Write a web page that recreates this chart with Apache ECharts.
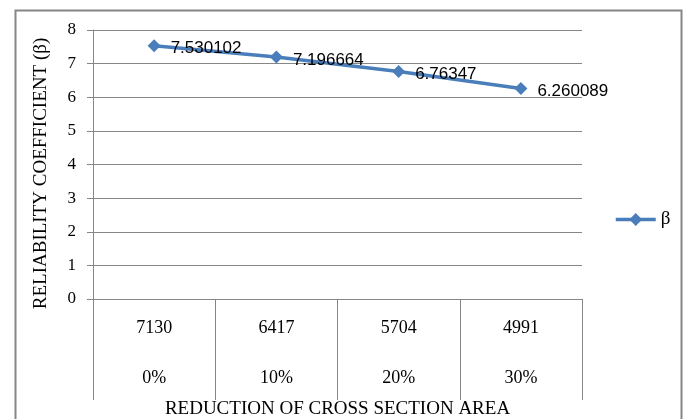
<!DOCTYPE html>
<html>
<head>
<meta charset="utf-8">
<script src="https://cdn.jsdelivr.net/npm/echarts@6/dist/echarts.min.js"></script>
<style>
html,body{margin:0;padding:0;background:#fff;}
#chart{width:686px;height:419px;}
</style>
</head>
<body>
<div id="chart"></div>
<script>
const areas = ['7130', '6417', '5704', '4991'];
const reductions = ['0%', '10%', '20%', '30%'];
const betaValues = [7.530102, 7.196664, 6.76347, 6.260089];
const betaLabels = ['7.530102', '7.196664', '6.76347', '6.260089'];
const seriesName = 'β';
const yTitle = 'RELIABILITY COEFFICIENT (β)';
const xTitle = 'REDUCTION OF CROSS SECTION AREA';

const categories = areas.map((a, i) => a + '\n' + reductions[i]);
const gray = '#868686';
const serif = '"Liberation Serif", "DejaVu Serif", serif';

const chart = echarts.init(document.getElementById('chart'), null, {renderer: 'canvas'});
chart.setOption({
  animation: false,
  backgroundColor: '#fff',
  graphic: [{
    type: 'rect',
    shape: {x: 15.5, y: 10.5, width: 666, height: 430},
    style: {fill: 'none', stroke: gray, lineWidth: 2},
    silent: true, z: -1
  }],
  grid: {left: 93, right: 104, top: 30, bottom: 120, containLabel: false, outerBoundsMode: 'none'},
  legend: {
    data: [seriesName],
    orient: 'vertical',
    left: 609, top: 205,
    itemWidth: 40, itemHeight: 16, itemGap: 2,
    lineStyle: {width: 3.5},
    textStyle: {fontFamily: serif, fontSize: 19, color: '#000'}
  },
  xAxis: {
    type: 'category',
    data: categories,
    boundaryGap: true,
    name: xTitle,
    nameLocation: 'middle',
    nameGap: 101,
    nameMoveOverlap: false,
    nameTextStyle: {fontFamily: serif, fontSize: 19, color: '#000'},
    axisLine: {show: true, lineStyle: {color: gray, width: 1}},
    axisTick: {show: true, alignWithLabel: false, inside: false, length: 101, lineStyle: {color: gray, width: 1}},
    axisLabel: {fontFamily: serif, fontSize: 18, color: '#000', lineHeight: 50, margin: 4, interval: 0}
  },
  yAxis: {
    type: 'value',
    min: 0, max: 8, interval: 1,
    name: yTitle,
    nameLocation: 'middle',
    nameRotate: 90,
    nameGap: 42,
    nameMoveOverlap: false,
    nameTextStyle: {fontFamily: serif, fontSize: 19, color: '#000', padding: [0, 18, 0, 0]},
    axisLine: {show: true, lineStyle: {color: gray, width: 1}},
    axisTick: {show: true, inside: false, length: 6, lineStyle: {color: gray}},
    axisLabel: {fontFamily: serif, fontSize: 17, color: '#000', margin: 17},
    splitLine: {show: true, lineStyle: {color: gray, width: 1}}
  },
  series: [{
    name: seriesName,
    type: 'line',
    data: betaValues,
    symbol: 'diamond',
    symbolSize: 13,
    lineStyle: {color: '#4A7EBB', width: 3.5},
    itemStyle: {color: '#4A7EBB'},
    label: {
      show: true,
      position: 'right',
      distance: 10,
      offset: [0, 3],
      fontFamily: '"Liberation Sans", Arial, sans-serif',
      fontSize: 17,
      color: '#000',
      formatter: p => betaLabels[p.dataIndex]
    }
  }]
});
</script>
</body>
</html>
